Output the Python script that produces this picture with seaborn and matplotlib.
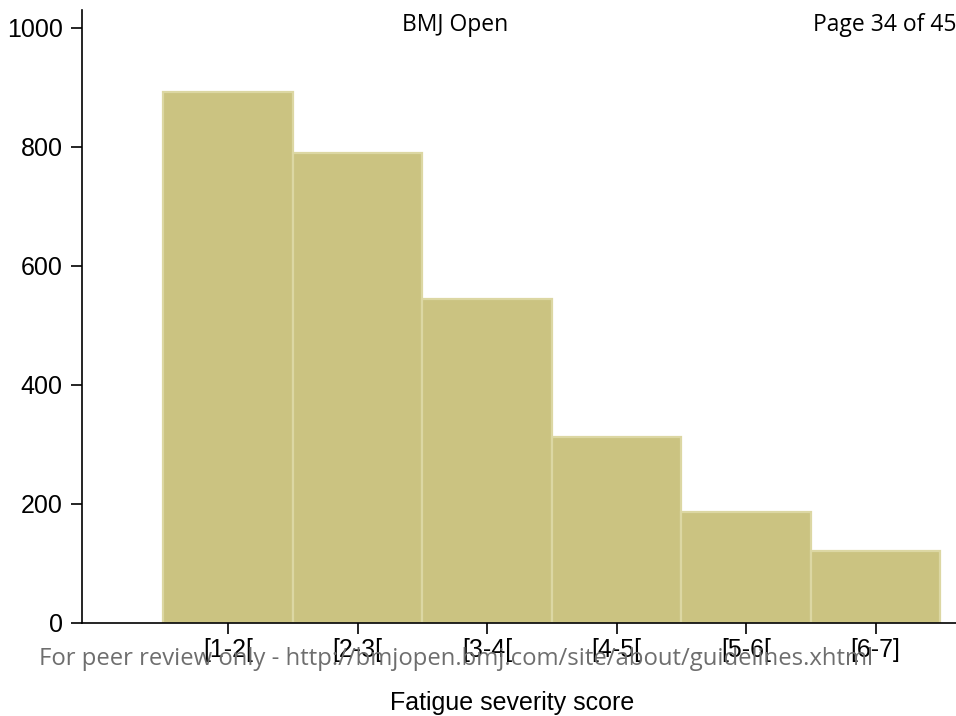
import matplotlib
matplotlib.use("Agg")
import matplotlib.pyplot as plt
import seaborn as sns
import pandas as pd

# Fatigue severity score bins and their counts
categories = ["[1-2[", "[2-3[", "[3-4[", "[4-5[", "[5-6[", "[6-7]"]
counts = [892, 790, 544, 313, 187, 121]
y_ticks = [0, 200, 400, 600, 800, 1000]

df = pd.DataFrame({"score": categories, "count": counts})

sns.set_theme(style="white")
plt.rcParams["font.family"] = ["Liberation Sans", "DejaVu Sans"]

W, H = 956, 716
fig = plt.figure(figsize=(W / 100, H / 100), dpi=100)
ax = fig.add_axes([82 / W, (H - 623) / H, 1 - 82 / W, (623 - 10) / H])

sns.barplot(data=df, x="score", y="count", order=categories, width=1.0,
            color="#CBC381", saturation=1, edgecolor="#DCD7A3", linewidth=1.6,
            ax=ax)

ax.set_xlim(-146 / 129.5, (W - 228) / 129.5)
ax.set_ylim(0, 1030)
ax.set_yticks(y_ticks)
ax.set_yticklabels([str(v) for v in y_ticks])
ax.set_xlabel("")
ax.set_ylabel("")

for side in ("top", "right"):
    ax.spines[side].set_visible(False)
for side in ("left", "bottom"):
    ax.spines[side].set_color("black")
    ax.spines[side].set_linewidth(1.2)

ax.tick_params(axis="both", which="major", direction="out", length=8, width=1.2,
               color="black", labelsize=18, labelcolor="black",
               left=True, bottom=True)
ax.tick_params(axis="y", pad=6)
ax.tick_params(axis="x", pad=3)

fig.text(512 / W, 1 - 703 / H, "Fatigue severity score", ha="center", va="center",
         fontsize=18, color="black")

# journal page header and footer
fig.text(455 / W, 1 - 25 / H, "BMJ Open", ha="center", va="center",
         fontsize=16.5, family=["Open Sans", "DejaVu Sans"], color="black")
fig.text(813 / W, 1 - 25 / H, "Page 34 of 45", ha="left", va="center",
         fontsize=16.5, family=["Open Sans", "DejaVu Sans"], color="black")
fig.text(456 / W, 1 - 659 / H,
         "For peer review only - http://bmjopen.bmj.com/site/about/guidelines.xhtml",
         ha="center", va="center", fontsize=17.2, family=["Open Sans", "DejaVu Sans"],
         color="#6E6E6E")

fig.savefig("out.png", dpi=100)
